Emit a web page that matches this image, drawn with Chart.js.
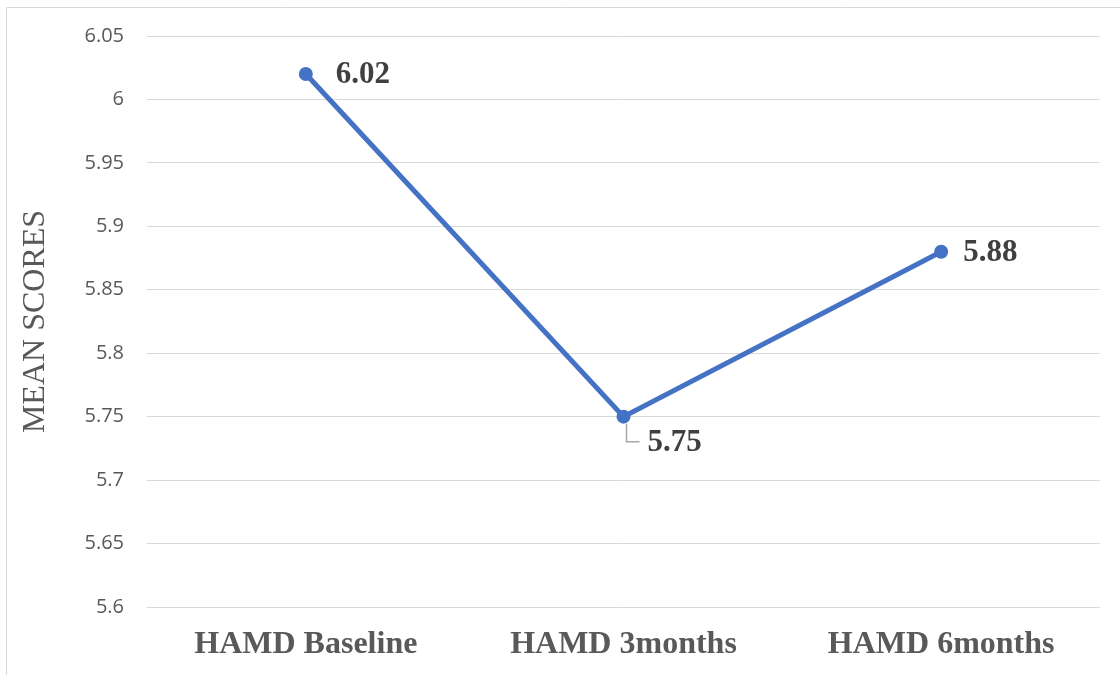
<!DOCTYPE html>
<html>
<head>
<meta charset="utf-8">
<script src="https://cdn.jsdelivr.net/npm/chart.js@4.4.1/dist/chart.umd.min.js"></script>
<style>
  html, body { margin: 0; padding: 0; background: #ffffff; }
  #wrap { width: 1120px; height: 675px; position: relative; }
</style>
</head>
<body>
<div id="wrap"><canvas id="meanChart"></canvas></div>
<script>
// data
const labels = ['HAMD Baseline', 'HAMD 3months', 'HAMD 6months'];
const meanScores = [6.02, 5.75, 5.88];
const yTicks = [5.6, 5.65, 5.7, 5.75, 5.8, 5.85, 5.9, 5.95, 6, 6.05];

// frame round the chart (like the office export)
const framePlugin = {
    id: 'frame',
    beforeDraw(chart) {
        const ctx = chart.ctx;
        ctx.save();
        ctx.strokeStyle = '#d9d9d9';
        ctx.lineWidth = 1;
        ctx.beginPath();
        ctx.moveTo(6.5, 675);
        ctx.lineTo(6.5, 7.5);
        ctx.lineTo(1120, 7.5);
        ctx.stroke();
        ctx.restore();
    }
};

// value labels, the middle one sits below with a leader line
const valueLabels = {
    id: 'valueLabels',
    afterDatasetsDraw(chart) {
        const ctx = chart.ctx;
        const meta = chart.getDatasetMeta(0);
        ctx.save();
        ctx.font = 'bold 31px "Liberation Serif", "Times New Roman", serif';
        ctx.fillStyle = '#404040';
        ctx.textBaseline = 'middle';
        ctx.textAlign = 'left';
        meta.data.forEach(function (pt, i) {
            const txt = meanScores[i].toFixed(2);
            if (i === 1) {
                ctx.strokeStyle = '#a6a6a6';
                ctx.lineWidth = 1.5;
                ctx.beginPath();
                ctx.moveTo(pt.x + 3, pt.y + 7);
                ctx.lineTo(pt.x + 3, pt.y + 25);
                ctx.lineTo(pt.x + 16, pt.y + 25);
                ctx.stroke();
                ctx.fillText(txt, pt.x + 24, pt.y + 26);
            } else {
                const dx = i === 0 ? 30 : 22;
                ctx.fillText(txt, pt.x + dx, pt.y + 1);
            }
        });
        ctx.restore();
    }
};

const chartItem = document.getElementById('meanChart');
const chart = new Chart(chartItem, {
    type: 'line',
    data: {
        labels: labels,
        datasets: [{
            label: 'Mean scores',
            data: meanScores,
            borderColor: '#4472C4',
            backgroundColor: '#4472C4',
            borderWidth: 5,
            pointRadius: 7,
            pointBorderWidth: 0,
            pointBackgroundColor: '#4472C4',
            tension: 0,
            fill: false
        }]
    },
    options: {
        responsive: true,
        maintainAspectRatio: false,
        animation: false,
        layout: {
            padding: { left: 16, right: 20, top: 36, bottom: 0 }
        },
        plugins: {
            legend: { display: false },
            tooltip: { enabled: false }
        },
        scales: {
            x: {
                offset: true,
                grid: { display: false, drawTicks: false },
                border: { display: false },
                ticks: {
                    color: '#595959',
                    padding: 19,
                    font: { family: '"Liberation Serif", "Times New Roman", serif', size: 32, weight: 'bold' }
                },
                afterFit(scale) { scale.height = 68; }
            },
            y: {
                min: 5.6,
                max: 6.05,
                grid: { color: '#d9d9d9', lineWidth: 1, drawTicks: false },
                border: { display: false },
                afterBuildTicks(scale) {
                    scale.ticks = yTicks.map(function (v) { return { value: v }; });
                },
                ticks: {
                    color: '#595959',
                    padding: 23,
                    font: { family: '"Open Sans", sans-serif', size: 20 },
                    callback(v) { return String(parseFloat(Number(v).toFixed(2))); }
                },
                title: {
                    display: true,
                    text: 'MEAN SCORES',
                    color: '#595959',
                    padding: 0,
                    font: { family: '"Liberation Serif", "Times New Roman", serif', size: 32 }
                },
                afterFit(scale) { scale.width = 131; }
            }
        }
    },
    plugins: [framePlugin, valueLabels]
});
</script>
</body>
</html>
